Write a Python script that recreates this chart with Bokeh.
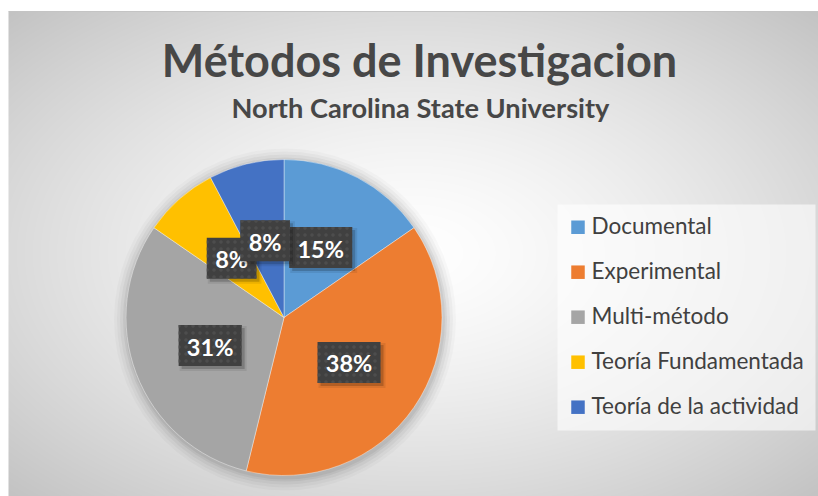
import numpy as np
from bokeh.plotting import figure
from bokeh.models import ColumnDataSource, Range1d, Label
from bokeh.embed import file_html
from bokeh.resources import INLINE
from bokeh.core.properties import value

# ---- data ----
categories = ["Documental", "Experimental", "Multi-método", "Teoría Fundamentada", "Teoría de la actividad"]
counts = [2, 5, 4, 1, 1]
colors = ["#5B9BD5", "#ED7D31", "#A5A5A5", "#FFC000", "#4472C4"]
title_text = "Métodos de Investigacion"
subtitle_text = "North Carolina State University"

# ---- layout helpers (page pixel coords -> data coords) ----
W, H = 818, 496
def py(y):
    return H - y

FONT = "Lato"
TXT = "#474747"

p = figure(width=W, height=H, x_range=Range1d(0, W), y_range=Range1d(0, H),
           output_backend="svg", toolbar_location=None, min_border=0,
           x_axis_location=None, y_axis_location=None)
p.grid.visible = False
p.outline_line_color = None
p.background_fill_color = "white"
p.border_fill_color = "white"

# ---- radial gradient background ----
gx0, gy_top = 8, 11
gw, gh = W - gx0, H - gy_top
xs = np.arange(gw) + gx0 + 0.5
ys = np.arange(gh) + 0.5
gcx, gcy = 413.0, py(253)
rx, ry = 405.0, 242.5
r = np.sqrt(((xs[None, :] - gcx) / rx) ** 2 + ((ys[:, None] - gcy) / ry) ** 2)
g = np.clip(255 - 37 * r ** 1.4, 0, 255).astype(np.uint32)
img = (np.uint32(255) << 24) | (g << 16) | (g << 8) | g
p.image_rgba(image=[img], x=gx0, y=0, dw=gw, dh=gh)
p.segment(x0=[gx0], y0=[py(gy_top)], x1=[W], y1=[py(gy_top)], line_color="#c4c4c4", line_width=1)

# ---- pie ----
PX, PY, R = 283.5, py(317), 158
fr = np.array(counts, dtype=float) / sum(counts)
cum = np.concatenate([[0.0], np.cumsum(fr)])
start = np.pi / 2 - 2 * np.pi * cum[:-1]
end = np.pi / 2 - 2 * np.pi * cum[1:]

# soft shadow around the pie
for k, a in [(13, 0.025), (10, 0.03), (7, 0.04), (4, 0.05), (2, 0.05)]:
    p.circle(x=[PX + 1], y=[PY - 2], radius=R + k, fill_color="black", fill_alpha=a, line_color=None)

src = ColumnDataSource(dict(cat=categories, start=start, end=end, color=colors))
p.wedge(x=PX, y=PY, radius=R, start_angle="start", end_angle="end", direction="clock",
        fill_color="color", line_color="white", line_width=0.4, source=src)

# ---- data labels ----
mid = (start + end) / 2
lx = PX + 0.5 * R * np.cos(mid)
ly = PY + 0.5 * R * np.sin(mid)
pct = [f"{int(round(f * 100))}%" for f in fr]
for x0, y0, s in zip(lx, ly, pct):
    bw = 18 + 13.3 * (len(s) - 1) + 18.4
    bh = 41
    p.rect(x=[x0 + 3], y=[y0 - 3], width=bw + 4, height=bh + 4, fill_color="black", fill_alpha=0.08, line_color=None)
    p.rect(x=[x0 + 3], y=[y0 - 3], width=bw, height=bh, fill_color="black", fill_alpha=0.18, line_color=None)
    p.rect(x=[x0], y=[y0], width=bw, height=bh, fill_color="#404040", line_color=None,
           hatch_pattern="dot", hatch_color="#4d4d4d", hatch_scale=7, hatch_weight=1.2)
    p.text(x=[x0], y=[y0 - 1], text=[s], text_font=value(FONT), text_font_style="bold",
           text_font_size="23.5px", text_color="white", text_align="center", text_baseline="middle")

# ---- legend ----
p.rect(x=[686], y=[py(317)], width=258, height=226, fill_color="white", fill_alpha=0.6, line_color=None)
row_y = [226.7 + 45 * i for i in range(len(categories))]
p.scatter(x=[577.5] * len(categories), y=[py(v) for v in row_y], marker="square", size=13.5,
          fill_color=colors, line_color=None)
p.text(x=[591] * len(categories), y=[py(v - 1.5) for v in row_y], text=categories,
       text_font=value(FONT), text_font_size="22.5px", text_color="#404040",
       text_align="left", text_baseline="middle")

# ---- titles ----
p.add_layout(Label(x=419, y=py(59.6), text=title_text, text_align="center", text_baseline="middle",
                   text_font=FONT, text_font_style="bold", text_font_size="45px", text_color=TXT))
p.add_layout(Label(x=420, y=py(107.4), text=subtitle_text, text_align="center", text_baseline="middle",
                   text_font=FONT, text_font_style="bold", text_font_size="27.2px", text_color=TXT))

open("out.html", "w").write(file_html(p, INLINE))
